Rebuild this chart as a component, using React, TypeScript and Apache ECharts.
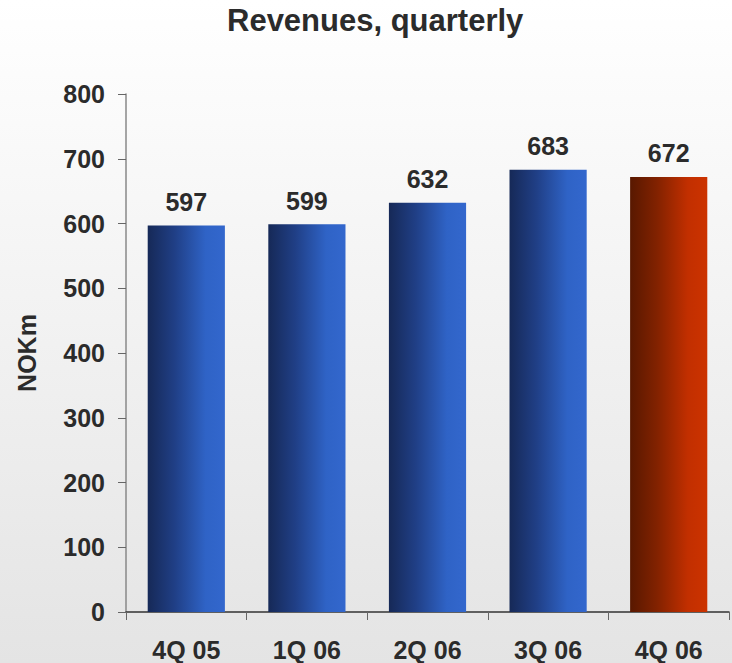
import React, { useEffect, useRef } from "react";
import * as echarts from "echarts";

const categories = ["4Q 05", "1Q 06", "2Q 06", "3Q 06", "4Q 06"];
const revenues = [597, 599, 632, 683, 672];
const highlightIndex = 4;
const chartTitle = "Revenues, quarterly";
const yAxisName = "NOKm";

const textColor = "#2b2b2b";
const font = "'Liberation Sans', Arial, sans-serif";

const blueGrad = () =>
  new echarts.graphic.LinearGradient(0, 0, 1, 0, [
    { offset: 0, color: "#162957" },
    { offset: 0.35, color: "#203f86" },
    { offset: 0.75, color: "#2f63c6" },
    { offset: 1, color: "#3367cd" },
  ]);
const redGrad = () =>
  new echarts.graphic.LinearGradient(0, 0, 1, 0, [
    { offset: 0, color: "#581800" },
    { offset: 0.35, color: "#822200" },
    { offset: 0.75, color: "#c22f00" },
    { offset: 1, color: "#cc3300" },
  ]);

export default function App() {
  const ref = useRef<HTMLDivElement>(null);
  useEffect(() => {
    if (!ref.current) return;
    const chart = echarts.init(ref.current, null, { renderer: "svg" });
    chart.setOption({
      animation: false,
      backgroundColor: new echarts.graphic.LinearGradient(0, 0, 0, 1, [
        { offset: 0, color: "#ffffff" },
        { offset: 1, color: "#e4e4e4" },
      ]),
      title: {
        text: chartTitle,
        left: 222,
        top: 0,
        textStyle: { fontFamily: font, fontSize: 31, fontWeight: "bold", color: textColor },
      },
      grid: { left: 126, right: 3, top: 94, bottom: 51, containLabel: false },
      xAxis: {
        type: "category",
        data: categories,
        axisLine: { lineStyle: { color: "#333", width: 1.5 } },
        axisTick: { show: true, length: 8, alignWithLabel: false, lineStyle: { color: "#666" } },
        axisLabel: {
          margin: 25,
          fontFamily: font,
          fontSize: 25,
          fontWeight: "bold",
          color: textColor,
        },
      },
      yAxis: {
        type: "value",
        min: 0,
        max: 800,
        interval: 100,
        name: yAxisName,
        nameLocation: "middle",
        nameRotate: 90,
        nameGap: 87,
        nameTextStyle: { fontFamily: font, fontSize: 25, fontWeight: "bold", color: textColor },
        axisLine: { show: true, lineStyle: { color: "#888", width: 1.5 } },
        axisTick: { show: true, length: 8, lineStyle: { color: "#666" } },
        splitLine: { show: false },
        axisLabel: {
          margin: 21,
          fontFamily: font,
          fontSize: 25,
          fontWeight: "bold",
          color: textColor,
        },
      },
      series: [
        {
          type: "bar",
          barWidth: "64%",
          data: revenues.map((v, i) => ({
            value: v,
            itemStyle: { color: i === highlightIndex ? redGrad() : blueGrad() },
          })),
          label: {
            show: true,
            position: "top",
            distance: 11,
            fontFamily: font,
            fontSize: 25,
            fontWeight: "bold",
            color: textColor,
          },
        },
      ],
    });
    return () => chart.dispose();
  }, []);
  return (
    <div
      ref={ref}
      style={{ position: "absolute", left: 0, top: 0, width: 732, height: 663 }}
    />
  );
}
